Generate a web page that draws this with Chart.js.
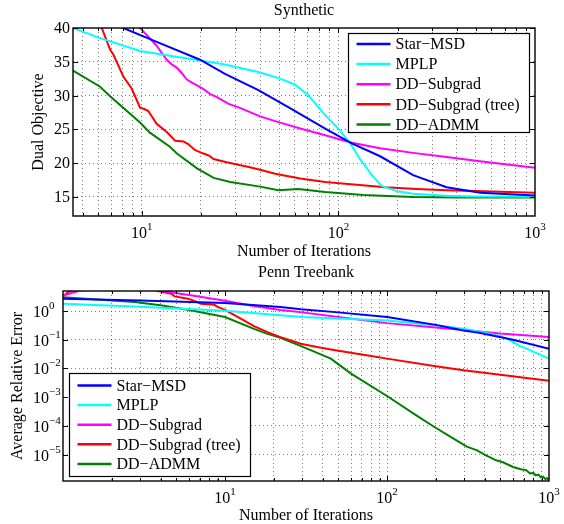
<!DOCTYPE html>
<html>
<head>
<meta charset="utf-8">
<script src="https://cdn.jsdelivr.net/npm/chart.js@4.4.1/dist/chart.umd.min.js"></script>
<style>
    body { margin: 0; background: #fff; }
    canvas { position: absolute; left: 0; }
</style>
</head>
<body>
<canvas id="chartTop" width="564" height="262" style="top:0"></canvas>
<canvas id="chartBottom" width="564" height="262" style="top:262px"></canvas>
<script>
// ---- legend / colours
var seriesNames = ['Star\u2212MSD', 'MPLP', 'DD\u2212Subgrad', 'DD\u2212Subgrad (tree)', 'DD\u2212ADMM'];
var seriesColors = ['#0000ff', '#00ffff', '#ff00ff', '#ff0000', '#008000'];

// ---- Synthetic (dual objective)
var synStarX = [5, 8.06, 12, 19.8, 26.5, 39.2, 57.9, 85.7, 117, 163, 240, 355, 527, 1000];
var synStarY = [42.7, 40, 37.9, 35.3, 33.2, 30.8, 28.0, 25.1, 22.9, 21.0, 18.2, 16.4, 15.6, 15.2];

var synMplpX = [4.47, 6.14, 9.8, 19.8, 26.5, 40, 50.6, 60.3, 70.5, 85.7, 102, 115, 128, 148, 166, 200, 240, 355, 500, 1000];
var synMplpY = [40, 38.5, 36.6, 35.2, 34.6, 33.4, 32.5, 31.6, 30.0, 27.1, 24.8, 22.9, 20.7, 18.2, 16.6, 15.8, 15.45, 15.15, 15.05, 15.0];

var synSubX = [9.0, 9.8, 10.8, 11.9, 12.5, 13.4, 14.2, 15.1, 16.0, 16.9, 18.0, 19.1, 20.5, 22.3, 24, 27.5, 32, 40, 47.7, 64, 85.7, 117, 163, 240, 355, 550, 1000];
var synSubY = [42, 40, 38.7, 37.4, 36.5, 35.3, 34.6, 34.1, 33.3, 32.4, 31.9, 31.5, 31.0, 30.2, 29.8, 28.8, 28.1, 26.9, 26.2, 25.1, 24.1, 23.0, 22.2, 21.5, 20.9, 20.2, 19.3];

var synTreeX = [5.8, 6.26, 6.9, 7.19, 8.06, 8.9, 9.8, 10.3, 10.8, 11.9, 13.4, 14.8, 16.3, 17.2, 18.7, 20.6, 22, 23.2, 27, 29.3, 35, 40, 47.7, 64, 85.7, 120, 173, 250, 355, 550, 1000];
var synTreeY = [43.5, 40, 36.8, 36.0, 32.8, 31.0, 28.2, 28.0, 27.7, 25.8, 24.6, 23.3, 23.2, 22.8, 21.9, 21.4, 21.1, 20.6, 20.1, 19.9, 19.4, 19.0, 18.4, 17.7, 17.2, 16.8, 16.4, 16.15, 15.95, 15.8, 15.6];

var synAdmmX = [4.47, 6.14, 6.9, 9.8, 11, 13.9, 15.1, 19.1, 23.2, 28.2, 40, 49.5, 62.5, 85.7, 134, 240, 400, 1000];
var synAdmmY = [33.7, 31.3, 29.9, 26.0, 24.5, 22.4, 21.4, 19.2, 17.8, 17.2, 16.5, 15.95, 16.15, 15.7, 15.25, 14.95, 14.9, 14.9];

var synXGrid = [5, 6, 7, 8, 9, 10, 20, 30, 40, 50, 60, 70, 80, 90, 100, 200, 300, 400, 500, 600, 700, 800, 900, 1000];
var synXLabels = [10, 100, 1000];
var synYTicks = [15, 20, 25, 30, 35, 40];

// ---- Penn Treebank (average relative error)
var tbStarX = [1, 3, 10, 22, 29.4, 50, 100, 200, 297, 370, 600, 1000];
var tbStarY = [2.7, 2.35, 1.9, 1.38, 1.15, 0.9, 0.62, 0.33, 0.21, 0.175, 0.1, 0.049];

var tbMplpX = [1, 3, 10, 22, 30, 50, 100, 200, 297, 400, 480, 548, 600, 660, 730, 850, 1000];
var tbMplpY = [1.81, 1.4, 1.02, 0.72, 0.62, 0.55, 0.47, 0.32, 0.24, 0.18, 0.14, 0.11, 0.085, 0.06, 0.049, 0.033, 0.022];

var tbSubX = [1, 1.24, 2, 3, 4.03, 6, 10, 15, 22, 30, 50, 100, 200, 297, 500, 1000];
var tbSubY = [3.5, 5, 9, 7, 5, 3.6, 2.3, 1.5, 1.08, 0.9, 0.62, 0.38, 0.27, 0.22, 0.165, 0.124];

var tbTreeX = [1, 1.1, 2, 3, 3.86, 4.66, 4.88, 5.9, 6.18, 7.1, 8.6, 9.0, 10, 12.5, 15.1, 18.3, 22, 29.4, 37, 47, 62.5, 80, 100, 200, 297, 500, 1000];
var tbTreeY = [3.3, 5, 12, 8, 5, 4.0, 3.25, 2.7, 2.5, 1.8, 1.65, 1.4, 1.1, 0.54, 0.3, 0.185, 0.124, 0.073, 0.056, 0.044, 0.034, 0.027, 0.022, 0.012, 0.0086, 0.006, 0.0037];

var tbAdmmX = [1, 2.77, 4, 5.9, 10, 15.1, 18.3, 22, 30, 45, 60, 100, 150, 194, 250, 311, 360, 400, 471, 520, 600, 680, 720, 764, 800, 830, 860, 890, 920, 950, 975, 1000];
var tbAdmmY = [3.0, 2.06, 1.58, 1.12, 0.62, 0.24, 0.16, 0.118, 0.058, 0.022, 0.0066, 0.0011, 2.4e-4, 9.5e-5, 4e-5, 1.9e-5, 1.4e-5, 1.0e-5, 6.3e-6, 5.4e-6, 3.7e-6, 3.0e-6, 2.9e-6, 2.2e-6, 2.3e-6, 1.9e-6, 2.0e-6, 1.6e-6, 1.7e-6, 1.4e-6, 1.5e-6, 1.3e-6];

var tbXGrid = [2, 3, 4, 5, 6, 7, 8, 9, 10, 20, 30, 40, 50, 60, 70, 80, 90, 100, 200, 300, 400, 500, 600, 700, 800, 900, 1000];
var tbXLabels = [10, 100, 1000];
var tbYTicks = [1e-5, 1e-4, 1e-3, 1e-2, 1e-1, 1];

var FONT = '"Liberation Serif", "Times New Roman", serif';

function toPoints(xs, ys) {
    return xs.map(function (x, i) { return { x: x, y: ys[i] }; });
}

function makeDatasets(pairs) {
    return pairs.map(function (p, i) {
        return {
            label: seriesNames[i],
            data: toPoints(p[0], p[1]),
            borderColor: seriesColors[i],
            backgroundColor: seriesColors[i],
            borderWidth: 2,
            pointRadius: 0,
            tension: 0,
            fill: false,
            clip: 0
        };
    });
}

function fixedTicks(list) {
    return function (scale) {
        scale.ticks = list.filter(function (v) {
            return v > scale.min && v < scale.max;
        }).map(function (v) { return { value: v }; });
    };
}

function powLabel(ctx, exp, x, y, align) {
    ctx.font = '16px ' + FONT;
    var wb = ctx.measureText('10').width;
    ctx.font = '11px ' + FONT;
    var we = ctx.measureText(exp).width;
    var left = align === 'center' ? x - (wb + we) / 2 : x;
    ctx.textAlign = 'left';
    ctx.textBaseline = 'alphabetic';
    ctx.font = '16px ' + FONT;
    ctx.fillText('10', left, y);
    ctx.font = '11px ' + FONT;
    ctx.fillText(exp, left + wb, y - 8);
}

function expText(v) {
    var e = Math.round(Math.log10(v));
    return (e < 0 ? '\u2212' + (-e) : '' + e);
}

// draws the box, inside ticks, tick labels, titles and legend
var matlabAxes = {
    id: 'matlabAxes',
    afterDraw: function (chart, args, o) {
        var ctx = chart.ctx, a = chart.chartArea;
        var xs = chart.scales.x, ys = chart.scales.y;
        ctx.save();
        ctx.strokeStyle = '#000';
        ctx.fillStyle = '#000';

        ctx.lineWidth = 1;
        ctx.beginPath();
        o.xGrid.forEach(function (v) {
            if (v <= xs.min || v >= xs.max) return;
            var px = Math.round(xs.getPixelForValue(v)) + 0.5;
            var len = o.xLabels.indexOf(v) >= 0 ? 5 : 3;
            ctx.moveTo(px, a.bottom); ctx.lineTo(px, a.bottom - len);
            ctx.moveTo(px, a.top); ctx.lineTo(px, a.top + len);
        });
        o.yTicks.forEach(function (v) {
            if (v <= ys.min || v > ys.max) return;
            var py = Math.round(ys.getPixelForValue(v)) + 0.5;
            ctx.moveTo(a.left, py); ctx.lineTo(a.left + 5, py);
            ctx.moveTo(a.right, py); ctx.lineTo(a.right - 5, py);
        });
        ctx.stroke();

        ctx.lineWidth = 1.4;
        ctx.strokeRect(a.left, a.top, a.right - a.left, a.bottom - a.top);

        // x tick labels
        o.xLabels.forEach(function (v) {
            powLabel(ctx, expText(v), xs.getPixelForValue(v), a.bottom + 22, 'center');
        });

        // y tick labels
        o.yTicks.forEach(function (v) {
            var py = ys.getPixelForValue(v);
            if (o.yLog) {
                powLabel(ctx, expText(v), a.left - 30, py + 6, 'left');
            } else {
                ctx.font = '16px ' + FONT;
                ctx.textAlign = 'right';
                ctx.textBaseline = 'middle';
                ctx.fillText(String(v), a.left - 3, py + 1);
            }
        });

        ctx.font = '16px ' + FONT;
        ctx.textAlign = 'center';
        ctx.textBaseline = 'middle';
        var cx = (a.left + a.right) / 2;
        ctx.fillText(o.title, cx, 11);
        ctx.fillText(o.xTitle, cx, o.xTitleY);

        ctx.save();
        ctx.translate(o.yTitleX, (a.top + a.bottom) / 2);
        ctx.rotate(-Math.PI / 2);
        ctx.fillText(o.yTitle, 0, 0);
        ctx.restore();

        // legend
        var L = o.legend;
        ctx.fillStyle = '#fff';
        ctx.fillRect(L.x, L.y, L.w, L.h);
        ctx.lineWidth = 1.2;
        ctx.strokeStyle = '#000';
        ctx.strokeRect(L.x, L.y, L.w, L.h);
        chart.data.datasets.forEach(function (ds, i) {
            var ry = L.y + L.first + i * L.step;
            ctx.strokeStyle = ds.borderColor;
            ctx.lineWidth = 2.5;
            ctx.beginPath();
            ctx.moveTo(L.x + 8, ry);
            ctx.lineTo(L.x + 42, ry);
            ctx.stroke();
            ctx.fillStyle = '#000';
            ctx.textAlign = 'left';
            ctx.textBaseline = 'middle';
            ctx.font = '16px ' + FONT;
            ctx.fillText(ds.label, L.x + 47, ry + 1);
        });
        ctx.restore();
    }
};

function makeChart(id, datasets, xMin, yMin, yMax, yLog, xGrid, yTicks, padding, axesOpts) {
    var gridOpts = { color: 'rgba(0,0,0,0.5)', lineWidth: 1, drawTicks: false };
    var borderOpts = { display: false, dash: [1, 3] };
    return new Chart(document.getElementById(id), {
        type: 'line',
        data: { datasets: datasets },
        options: {
            responsive: false,
            animation: false,
            events: [],
            layout: { padding: padding },
            scales: {
                x: {
                    type: 'logarithmic',
                    min: xMin,
                    max: 1000,
                    grid: gridOpts,
                    border: borderOpts,
                    ticks: { display: false },
                    afterBuildTicks: fixedTicks(xGrid)
                },
                y: {
                    type: yLog ? 'logarithmic' : 'linear',
                    min: yMin,
                    max: yMax,
                    grid: gridOpts,
                    border: borderOpts,
                    ticks: { display: false },
                    afterBuildTicks: fixedTicks(yTicks)
                }
            },
            plugins: {
                legend: { display: false },
                title: { display: false },
                tooltip: { enabled: false },
                matlabAxes: axesOpts
            }
        },
        plugins: [matlabAxes]
    });
}

var chartTop = makeChart('chartTop',
    makeDatasets([[synStarX, synStarY], [synMplpX, synMplpY], [synSubX, synSubY], [synTreeX, synTreeY], [synAdmmX, synAdmmY]]),
    4.47, 12.15, 40, false, synXGrid, synYTicks,
    { left: 73, top: 28, right: 29, bottom: 46 },
    {
        title: 'Synthetic', xTitle: 'Number of Iterations', xTitleY: 252,
        yTitle: 'Dual Objective', yTitleX: 39,
        xGrid: synXGrid, xLabels: synXLabels, yTicks: synYTicks, yLog: false,
        legend: { x: 348.5, y: 33.5, w: 181, h: 99, first: 10.5, step: 20.1 }
    });

var chartBottom = makeChart('chartBottom',
    makeDatasets([[tbStarX, tbStarY], [tbMplpX, tbMplpY], [tbSubX, tbSubY], [tbTreeX, tbTreeY], [tbAdmmX, tbAdmmY]]),
    1, 1.2e-6, 5, true, tbXGrid, tbYTicks,
    { left: 63, top: 29, right: 15, bottom: 43 },
    {
        title: 'Penn Treebank', xTitle: 'Number of Iterations', xTitleY: 254,
        yTitle: 'Average Relative Error', yTitleX: 18,
        xGrid: tbXGrid, xLabels: tbXLabels, yTicks: tbYTicks, yLog: true,
        legend: { x: 69.5, y: 111.5, w: 181, h: 103, first: 12, step: 19.6 }
    });
</script>
</body>
</html>
